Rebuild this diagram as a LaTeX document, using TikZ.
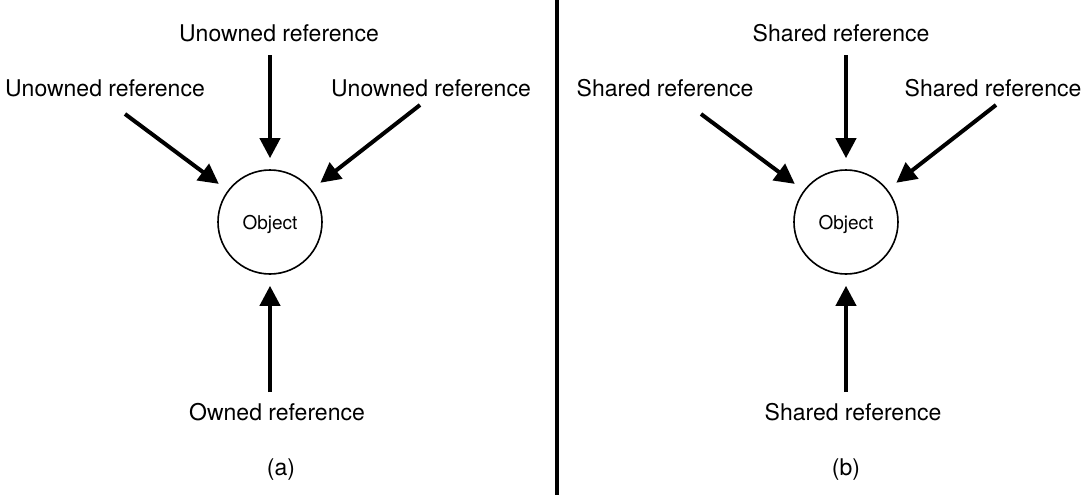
\documentclass[tikz,border=0pt]{standalone}
\usepackage{fontspec}
\setmainfont{TeX Gyre Heros}
\usetikzlibrary{arrows.meta}

\begin{document}
\begin{tikzpicture}[->,>={Triangle[length=20pt,width=20pt]},shorten >=11pt,line width=4pt,x=1pt,y=-1pt]
\tikzstyle{every node}=[font=\fontsize{23}{28}\selectfont,text=black]
\tikzstyle{object}=[draw,circle,line width=1.6pt,minimum size=104pt,inner sep=0pt,text depth=0pt,font=\fontsize{19}{23}\selectfont]

\useasboundingbox (0,0) rectangle (1085,498);

% left: one owner
\node[object] (objA) at (270,222) {Object};
\node (topA) at (279,33) {Unowned reference};
\node (leftA) at (105,88) {Unowned reference};
\node (rightA) at (431,88) {Unowned reference};
\node (botA) at (277,412) {Owned reference};
\node (capA) at (281,470) {(a)};
\coordinate (tA) at (270,55);
\coordinate (lA) at (125,114);
\coordinate (rA) at (420,105);
\coordinate (bA) at (270,392);

% right: all shared
\node[object] (objB) at (846,222) {Object};
\node (topB) at (841,33) {Shared reference};
\node (leftB) at (665,88) {Shared reference};
\node (rightB) at (993,88) {Shared reference};
\node (botB) at (853,412) {Shared reference};
\node (capB) at (846,470) {(b)};
\coordinate (tB) at (846,55);
\coordinate (lB) at (701,114);
\coordinate (rB) at (996,105);
\coordinate (bB) at (846,392);

\coordinate (divtop) at (557,0);
\coordinate (divbot) at (557,495);

\path
(tA) edge (objA)
(lA) edge (objA)
(rA) edge (objA)
(bA) edge (objA)
(tB) edge (objB)
(lB) edge (objB)
(rB) edge (objB)
(bB) edge (objB)
;
\draw[-,shorten >=0pt] (divtop) -- (divbot);
\end{tikzpicture}
\end{document}
